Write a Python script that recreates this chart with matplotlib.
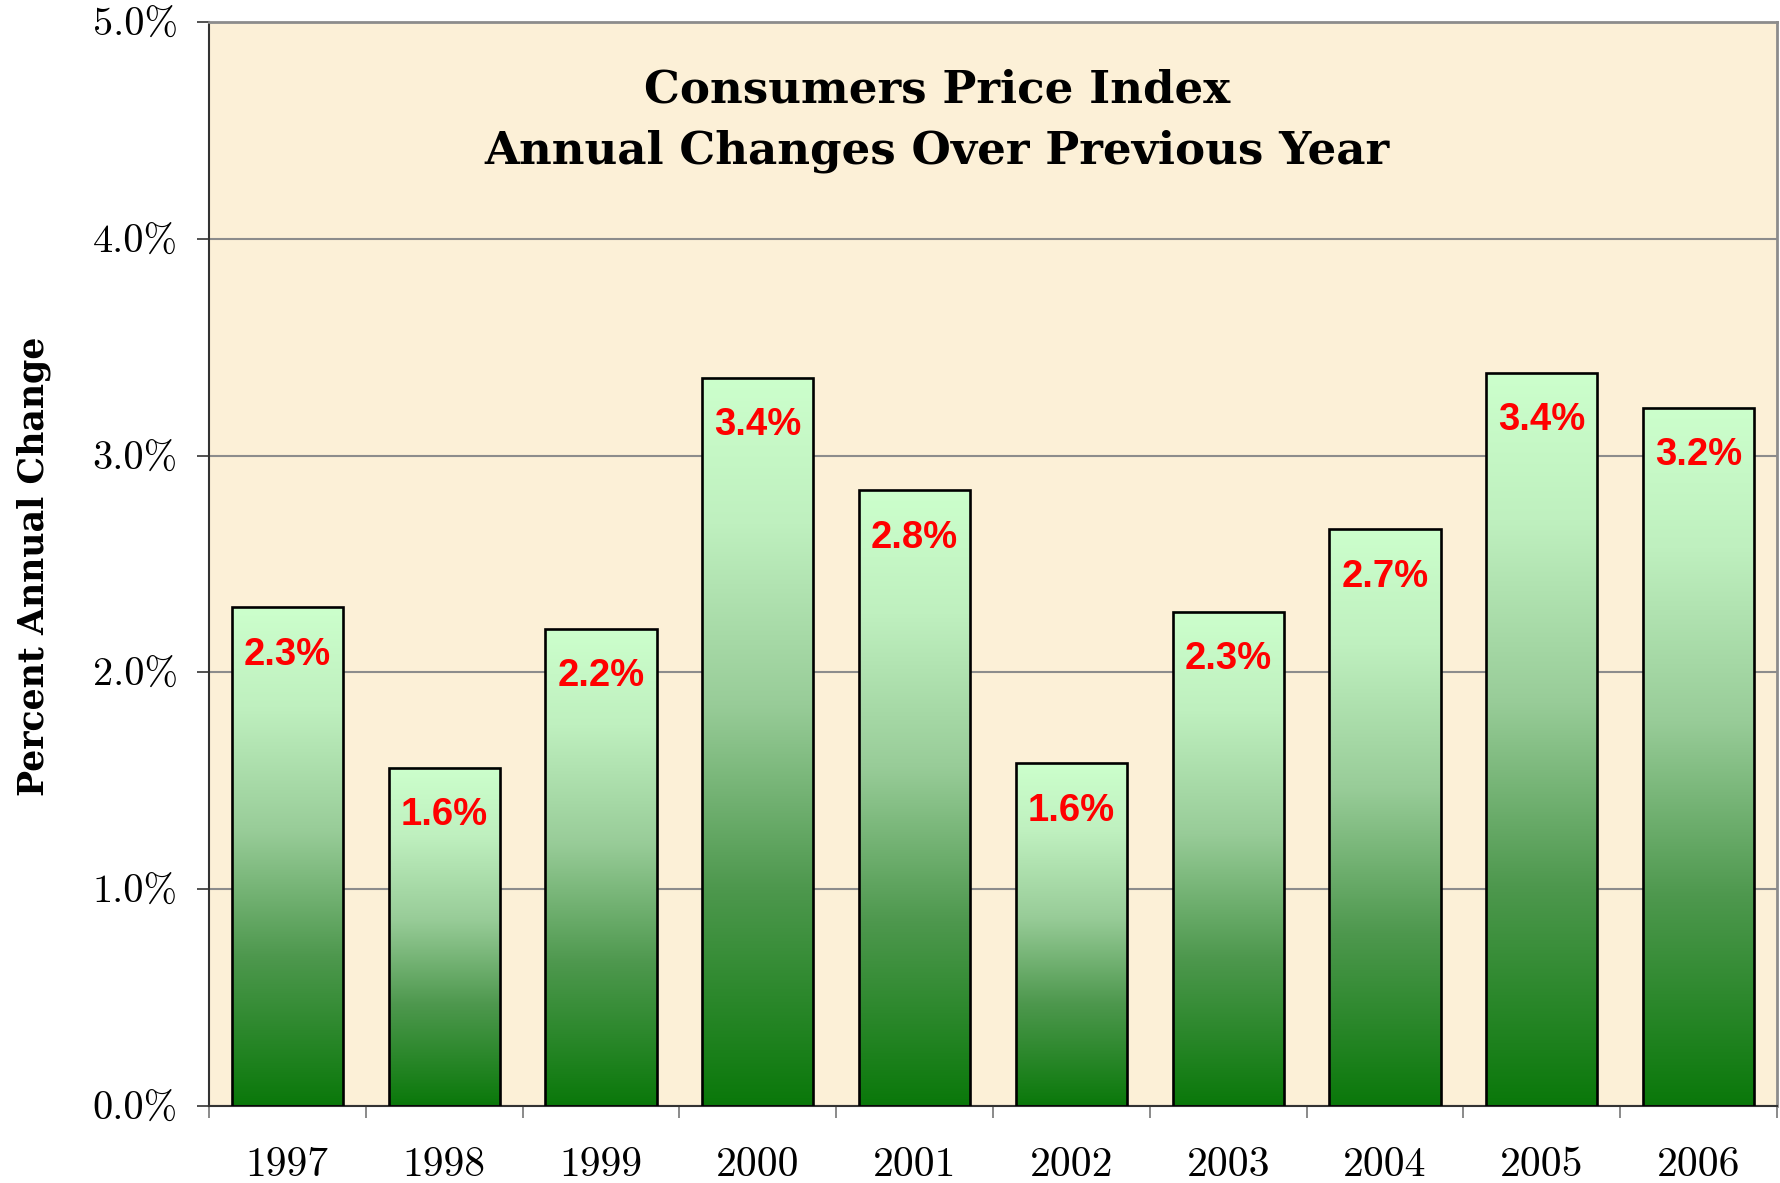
import numpy as np
import matplotlib
matplotlib.use("Agg")
import matplotlib.pyplot as plt
from matplotlib.colors import LinearSegmentedColormap
from matplotlib.patches import Rectangle

years = ["1997", "1998", "1999", "2000", "2001", "2002", "2003", "2004", "2005", "2006"]
values = [2.30, 1.56, 2.20, 3.36, 2.84, 1.58, 2.28, 2.66, 3.38, 3.22]
labels = ["2.3%", "1.6%", "2.2%", "3.4%", "2.8%", "1.6%", "2.3%", "2.7%", "3.4%", "3.2%"]
yticks = [0, 1, 2, 3, 4, 5]
ytick_labels = ["0.0%", "1.0%", "2.0%", "3.0%", "4.0%", "5.0%"]

W, H = 1780, 1183
fig = plt.figure(figsize=(W / 100, H / 100), dpi=100)
fig.patch.set_facecolor("white")
ax = fig.add_axes([209 / W, 77 / H, (1777 - 209) / W, (1106 - 22) / H])
ax.set_facecolor("#FCF0D7")

cmap = LinearSegmentedColormap.from_list(
    "grn", [(0.0, "#0A780A"), (0.3, "#4E984E"), (0.55, "#98CC98"), (0.8, "#BFF0BF"), (1.0, "#CCFFCC")])
grad = np.linspace(0, 1, 256).reshape(-1, 1)
bw = 0.71
x = np.arange(len(years))
for xi, v, lab in zip(x, values, labels):
    ax.imshow(grad, cmap=cmap, origin="lower", aspect="auto",
              extent=[xi - bw / 2, xi + bw / 2, 0, v], zorder=2, interpolation="bilinear")
    ax.add_patch(Rectangle((xi - bw / 2, 0), bw, v, fill=False, edgecolor="black", lw=1.9, zorder=3))
    ax.annotate(lab, (xi, v), xytext=(0, -34), textcoords="offset points", ha="center", va="center",
                color="#FF0000", fontsize=27.5, fontweight="bold", family="Liberation Sans", zorder=4)

ax.set_xlim(-0.5, len(years) - 0.5)
ax.set_ylim(0, 5)
ax.set_yticks(yticks)
ax.set_yticklabels(ytick_labels, family="cmr10", fontsize=29)
ax.yaxis.grid(True, color="#8C8C8C", lw=1.5, zorder=1)
ax.set_axisbelow(True)
ax.tick_params(axis="y", length=8.6, width=1.2, color="#333333", pad=14)

ax.set_xticks(x)
ax.set_xticklabels(years, family="cmr10", fontsize=30)
ax.set_xticks(np.arange(-0.5, len(years), 1.0), minor=True)
ax.tick_params(axis="x", which="major", length=0, pad=29)
ax.tick_params(axis="x", which="minor", length=8.6, width=1.2, color="#777777")

for s in ["left", "bottom"]:
    ax.spines[s].set_color("#333333")
    ax.spines[s].set_linewidth(1.5)
for s in ["top", "right"]:
    ax.spines[s].set_color("#8C8C8C")
    ax.spines[s].set_linewidth(2)

fig.text(34 / W, 1 - 566 / H, "Percent Annual Change", rotation=90, ha="center", va="center",
         family="DejaVu Serif", fontweight="bold", fontsize=25)

fig.text(937 / W, 1 - 90 / H, "Consumers Price Index", ha="center", va="center",
         family="DejaVu Serif", fontweight="bold", fontsize=32.5)
fig.text(937 / W, 1 - 151 / H, "Annual Changes Over Previous Year", ha="center", va="center",
         family="DejaVu Serif", fontweight="bold", fontsize=32.5)

fig.savefig("out.png", dpi=100)
